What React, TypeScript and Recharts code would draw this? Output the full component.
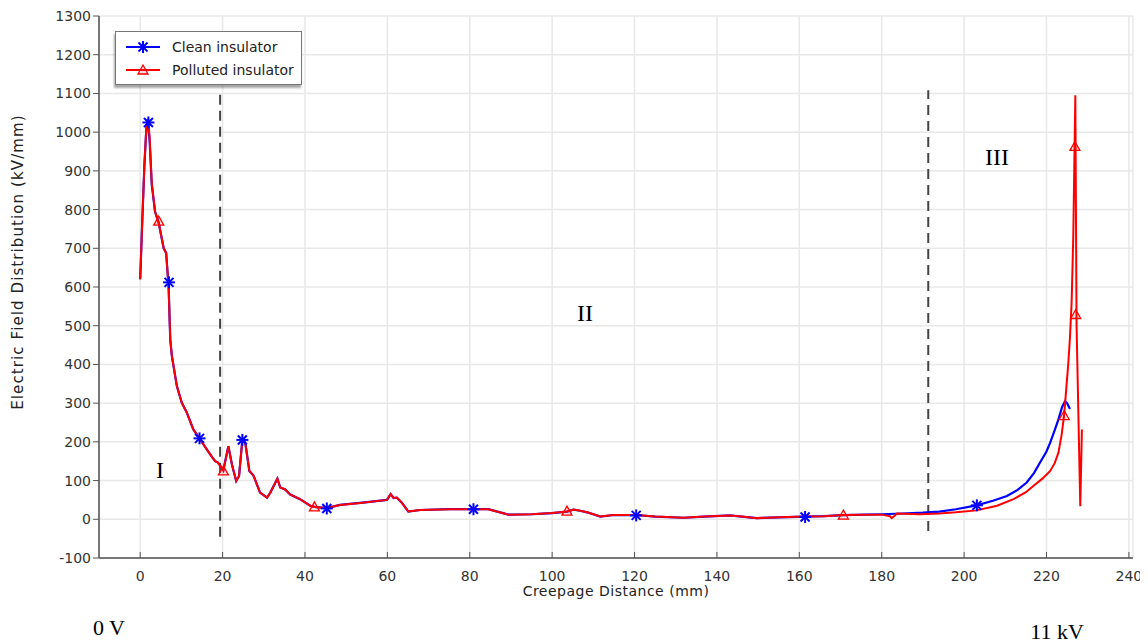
import React from 'react';
import {
  ComposedChart,
  Line,
  Scatter,
  XAxis,
  YAxis,
  CartesianGrid,
  ReferenceLine,
  Legend,
} from 'recharts';

// creepage distance (mm) and field (kV/mm)
const cleanDistance = [
  0, 0.5, 1, 1.5, 1.9, 2.3, 2.8, 3.6, 4.5, 5.7, 6.3, 6.9, 7.3, 7.7, 8.9, 10.1, 11.3, 12.9, 14.4, 16.2,
  17.5, 18.2, 18.8, 19.3, 20.2, 21.4, 22.3, 23.3, 24, 24.8, 25.5, 26.5, 27.5, 29.1, 30.8, 31.6, 33.3, 34,
  35.2, 36.4, 38.8, 41.3, 42.3, 45.3, 48.5, 54, 59.9, 60.8, 61.5, 62.3, 63.5, 65.1, 68, 75.2, 80.9, 84.5,
  89.4, 95, 100, 103.6, 105.2, 106.8, 108.5, 111.7, 114.9, 120.4, 125, 131.9, 137, 143.2, 146, 149.7, 155,
  161.4, 166, 170.7, 176, 180, 185, 190, 194, 198, 203, 207, 210.4, 213, 215.2, 217, 218.4, 220, 220.9,
  222, 222.9, 223.8, 224.5, 225, 225.7,
];
const cleanField = [
  620, 770, 910, 1010, 1028, 975, 865, 795, 765, 700, 688, 600, 464, 421, 344, 301, 276, 232, 209, 180,
  160, 150, 147, 140, 128, 189, 140, 99, 112, 205, 198, 125, 113, 69, 56, 69, 105, 82,
  77, 64, 52, 35, 32, 29, 37, 43, 50, 65, 55, 56, 43, 20, 24, 26, 26, 26,
  12, 13, 16, 20, 25, 22, 18, 7, 11, 11, 7, 4, 7, 10, 7, 3, 5,
  7, 8, 11, 12, 13, 15, 17, 20, 26, 36, 48, 60, 76, 95, 120, 146, 175, 198,
  230, 258, 290, 305, 300, 285,
];

const pollutedDistance = [
  0, 0.5, 1, 1.5, 1.9, 2.3, 2.8, 3.6, 4.5, 5.7, 6.3, 6.9, 7.3, 7.7, 8.9, 10.1, 11.3, 12.9, 14.4, 16.2,
  17.5, 18.2, 18.8, 19.3, 20.2, 21.4, 22.3, 23.3, 24, 24.8, 25.5, 26.5, 27.5, 29.1, 30.8, 31.6, 33.3, 34,
  35.2, 36.4, 38.8, 41.3, 42.3, 45.3, 48.5, 54, 59.9, 60.8, 61.5, 62.3, 63.5, 65.1, 68, 75.2, 80.9, 84.5,
  89.4, 95, 100, 103.6, 105.2, 106.8, 108.5, 111.7, 114.9, 120.4, 125, 131.9, 137, 143.2, 146, 149.7, 155,
  161.4, 166, 170.7, 176, 180, 182, 182.4, 183, 183.7, 189, 194, 198, 203, 208, 212, 215, 216.8, 219,
  220.9, 222, 222.9, 223.7, 224.3, 225.3, 225.7, 226.1, 226.5, 227, 227.3, 228.2, 228.6,
];
const pollutedField = [
  620, 770, 910, 1015, 1035, 985, 870, 795, 765, 700, 688, 600, 464, 421, 344, 301, 276, 232, 209, 180,
  160, 150, 147, 140, 125, 189, 140, 99, 112, 205, 198, 125, 113, 69, 56, 69, 105, 82,
  77, 64, 52, 35, 32, 29, 37, 43, 50, 65, 55, 56, 43, 20, 24, 26, 26, 26,
  12, 13, 16, 20, 25, 22, 18, 7, 11, 11, 7, 4, 7, 10, 7, 3, 5,
  7, 8, 11, 12, 12, 8, 3, 8, 15, 13, 15, 18, 23, 35, 52, 70, 86, 105,
  125, 145, 172, 220, 271, 404, 470, 560, 730, 1095, 500, 34, 232,
];

const cleanMarkerDistance = [2, 7, 14.4, 24.8, 45.3, 80.9, 120.4, 161.4, 203.1];
const cleanMarkerField = [1025, 612, 209, 205, 28, 26, 10, 6, 36];
const pollutedMarkerDistance = [4.5, 20.2, 42.3, 103.6, 170.7, 224.3, 226.9, 227.1];
const pollutedMarkerField = [770, 125, 32, 21, 11, 268, 963, 529];

const xTicks = [0, 20, 40, 60, 80, 100, 120, 140, 160, 180, 200, 220, 240];
const yTicks = [-100, 0, 100, 200, 300, 400, 500, 600, 700, 800, 900, 1000, 1100, 1200, 1300];

const zoneBounds = [
  { x: 19.4, from: -45, to: 1112 },
  { x: 191.3, from: -30, to: 1108 },
];

const zip = (xs: number[], ys: number[]) => xs.map((x, i) => ({ x, y: ys[i] }));

const cleanData = zip(cleanDistance, cleanField);
const pollutedData = zip(pollutedDistance, pollutedField);
const cleanMarkers = zip(cleanMarkerDistance, cleanMarkerField);
const pollutedMarkers = zip(pollutedMarkerDistance, pollutedMarkerField);

const BLUE = '#0000ff';
const RED = '#ff0000';
const FONT = "'DejaVu Sans', sans-serif";
const SERIF = "'Liberation Serif', 'DejaVu Serif', serif";

const Asterisk = (props: any) => {
  const { cx, cy } = props;
  const r = 6;
  const d = 4.5;
  return (
    <g stroke={BLUE} strokeWidth={2}>
      <line x1={cx - r} y1={cy} x2={cx + r} y2={cy} />
      <line x1={cx} y1={cy - r} x2={cx} y2={cy + r} />
      <line x1={cx - d} y1={cy - d} x2={cx + d} y2={cy + d} />
      <line x1={cx - d} y1={cy + d} x2={cx + d} y2={cy - d} />
    </g>
  );
};

const Triangle = (props: any) => {
  const { cx, cy } = props;
  return (
    <path
      d={`M${cx},${cy - 5} L${cx + 5},${cy + 4} L${cx - 5},${cy + 4} Z`}
      fill="rgba(255,0,0,0.12)"
      stroke={RED}
      strokeWidth={1.3}
    />
  );
};

const LegendBox = () => (
  <div
    style={{
      width: 185,
      height: 52,
      background: '#fff',
      border: '1px solid #777',
      boxShadow: '-1px 3px 2px rgba(0,0,0,0.35)',
      fontFamily: FONT,
      fontSize: 14,
      color: '#222',
    }}
  >
    {[
      { name: 'Clean insulator', color: BLUE, Marker: Asterisk },
      { name: 'Polluted insulator', color: RED, Marker: Triangle },
    ].map((item, i) => (
      <div key={item.name} style={{ display: 'flex', alignItems: 'center', height: 23, marginTop: i === 0 ? 3 : 0 }}>
        <svg width={48} height={16} style={{ marginLeft: 8 }}>
          <line x1={2} y1={8} x2={36} y2={8} stroke={item.color} strokeWidth={2} />
          <item.Marker cx={19} cy={8} />
        </svg>
        <span>{item.name}</span>
      </div>
    ))}
  </div>
);

const note = (text: string, left: number, top: number, size: number) => (
  <div
    style={{
      position: 'absolute',
      left,
      top,
      transform: 'translate(-50%, -50%)',
      fontFamily: SERIF,
      fontSize: size,
      color: '#000',
      whiteSpace: 'nowrap',
      lineHeight: 1,
    }}
  >
    {text}
  </div>
);

export default function App() {
  return (
    <div style={{ position: 'relative', width: 1140, height: 636 }}>
      <ComposedChart width={1140} height={636} margin={{ top: 8, right: 15, bottom: 56, left: 31 }}>
        <CartesianGrid stroke="#e8e8e8" strokeWidth={1.5} />
        <XAxis
          dataKey="x"
          type="number"
          domain={[-10, 241]}
          ticks={xTicks}
          interval={0}
          height={30}
          axisLine={{ stroke: '#777', strokeWidth: 2 }}
          tickLine={{ stroke: '#555' }}
          tickSize={-6}
          tickMargin={19}
          tick={{ fill: '#333', fontSize: 14, fontFamily: FONT }}
        />
        <XAxis
          xAxisId="top"
          orientation="top"
          dataKey="x"
          type="number"
          domain={[-10, 241]}
          ticks={xTicks}
          interval={0}
          height={0}
          axisLine={{ stroke: '#777', strokeWidth: 2 }}
          tickLine={{ stroke: '#555' }}
          tickSize={-6}
          tick={false}
        />
        <YAxis
          type="number"
          domain={[-100, 1300]}
          ticks={yTicks}
          interval={0}
          width={60}
          axisLine={{ stroke: '#777', strokeWidth: 2 }}
          tickLine={{ stroke: '#555' }}
          tickSize={6}
          tickMargin={2}
          tick={{ fill: '#333', fontSize: 14, fontFamily: FONT }}
        />
        <YAxis
          yAxisId="right"
          orientation="right"
          type="number"
          domain={[-100, 1300]}
          ticks={yTicks}
          interval={0}
          width={0}
          axisLine={{ stroke: '#777', strokeWidth: 2 }}
          tickLine={{ stroke: '#555' }}
          tickSize={-7}
          tick={false}
        />
        {zoneBounds.map((b) => (
          <ReferenceLine
            key={b.x}
            segment={[
              { x: b.x, y: b.from },
              { x: b.x, y: b.to },
            ]}
            stroke="#444"
            strokeWidth={2}
            strokeDasharray="10 6"
          />
        ))}
        <Line
          data={cleanData}
          dataKey="y"
          type="linear"
          stroke={BLUE}
          strokeWidth={2.2}
          dot={false}
          isAnimationActive={false}
        />
        <Line
          data={pollutedData}
          dataKey="y"
          type="linear"
          stroke={RED}
          strokeWidth={2}
          dot={false}
          isAnimationActive={false}
        />
        <Scatter data={cleanMarkers} dataKey="y" shape={Asterisk} isAnimationActive={false} />
        <Scatter data={pollutedMarkers} dataKey="y" shape={Triangle} isAnimationActive={false} />
        <Legend
          layout="vertical"
          align="center"
          verticalAlign="middle"
          content={() => <LegendBox />}
          wrapperStyle={{ position: 'absolute', left: 107, top: 23, width: 187, height: 54 }}
        />
      </ComposedChart>

      <div
        style={{
          position: 'absolute',
          left: 10,
          top: 254,
          transform: 'translate(-50%, -50%) rotate(-90deg)',
          fontFamily: FONT,
          fontSize: 15,
          letterSpacing: 1.1,
          color: '#222',
          whiteSpace: 'nowrap',
        }}
      >
        Electric Field Distribution (kV/mm)
      </div>
      <div
        style={{
          position: 'absolute',
          left: 608,
          top: 583,
          transform: 'translate(-50%, -50%)',
          fontFamily: FONT,
          fontSize: 14,
          letterSpacing: 0.5,
          color: '#222',
          whiteSpace: 'nowrap',
        }}
      >
        Creepage Distance (mm)
      </div>
      {note('I', 152, 462, 24)}
      {note('II', 577, 305, 24)}
      {note('III', 989, 149, 24)}
      {note('0 V', 101, 620, 22)}
      {note('11 kV', 1049, 624, 22)}
    </div>
  );
}
